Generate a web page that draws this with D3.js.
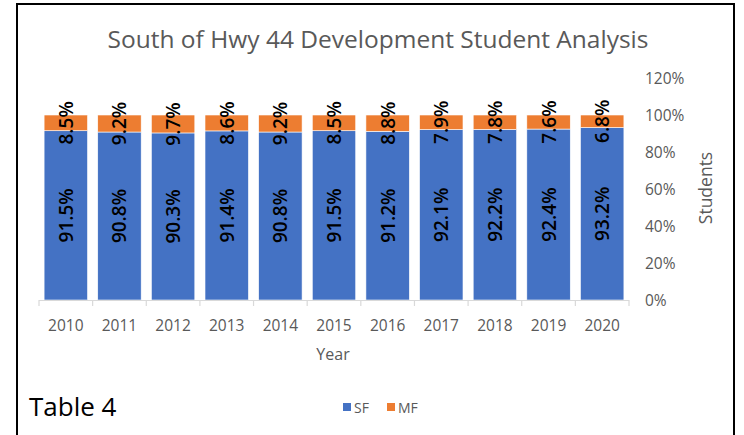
<!DOCTYPE html>
<html>
<head>
<meta charset="utf-8">
<script src="https://cdn.jsdelivr.net/npm/d3@7"></script>
<style>
  html, body { margin: 0; padding: 0; background: #fff; }
  svg { display: block; font-family: "Open Sans", sans-serif; }
</style>
</head>
<body>
<svg id="chart" width="744" height="435"></svg>
<script>
// Share of students by housing type, per year
const years = ["2010","2011","2012","2013","2014","2015","2016","2017","2018","2019","2020"];
const sf = [91.5, 90.8, 90.3, 91.4, 90.8, 91.5, 91.2, 92.1, 92.2, 92.4, 93.2];
const mf = [8.5, 9.2, 9.7, 8.6, 9.2, 8.5, 8.8, 7.9, 7.8, 7.6, 6.8];
const yTicks = [0, 20, 40, 60, 80, 100, 120];
const seriesNames = ["SF", "MF"];
const seriesColors = ["#4472C4", "#ED7D31"];

const svg = d3.select("#chart");

// outer frame
svg.append("rect")
  .attr("x", 17).attr("y", 4).attr("width", 717).attr("height", 440)
  .attr("fill", "#fff").attr("stroke", "#000").attr("stroke-width", 2);

const x = d3.scaleBand().domain(years).range([39, 629]).paddingInner(0.19).paddingOuter(0.095);
const y = d3.scaleLinear().domain([0, 120]).range([300, 78]);

// stacked segments
const rows = years.map((yr, i) => ({ year: yr, SF: sf[i], MF: mf[i] }));
const stack = d3.stack().keys(seriesNames)(rows);

const g = svg.append("g");
stack.forEach((layer, li) => {
  g.selectAll(null).data(layer).enter().append("rect")
    .attr("x", d => x(d.data.year))
    .attr("width", x.bandwidth())
    .attr("y", d => y(d[1]))
    .attr("height", d => y(d[0]) - y(d[1]))
    .attr("fill", seriesColors[li])
    .attr("stroke", "#fff").attr("stroke-width", 0.6);
});

// value labels, rotated
stack.forEach((layer, li) => {
  g.selectAll(null).data(layer).enter().append("text")
    .attr("transform", d => `translate(${x(d.data.year) + x.bandwidth() / 2},${(y(d[0]) + y(d[1])) / 2}) rotate(-90)`)
    .attr("text-anchor", "middle")
    .attr("dominant-baseline", "central")
    .attr("font-size", 19)
    .attr("font-weight", 600)
    .attr("fill", "#000")
    .text(d => (d[1] - d[0]).toFixed(1) + "%");
});

// bottom axis line with ticks between categories
const axisG = svg.append("g");
axisG.append("line")
  .attr("x1", 39).attr("x2", 629).attr("y1", 300.5).attr("y2", 300.5)
  .attr("stroke", "#d9d9d9").attr("stroke-width", 1.2);
d3.range(years.length + 1).forEach(i => {
  const tx = 39 + i * x.step();
  axisG.append("line")
    .attr("x1", tx).attr("x2", tx).attr("y1", 300).attr("y2", 306)
    .attr("stroke", "#d9d9d9").attr("stroke-width", 1.2);
});
axisG.selectAll(null).data(years).enter().append("text")
  .attr("x", d => x(d) + x.bandwidth() / 2)
  .attr("y", 325)
  .attr("text-anchor", "middle")
  .attr("dominant-baseline", "central")
  .attr("font-size", 15.5)
  .attr("fill", "#595959")
  .text(d => d);

// right value axis labels
svg.append("g").selectAll(null).data(yTicks).enter().append("text")
  .attr("x", 645)
  .attr("y", d => y(d))
  .attr("dominant-baseline", "central")
  .attr("font-size", 15.5)
  .attr("fill", "#595959")
  .text(d => d + "%");

// titles
svg.append("text")
  .attr("x", 378).attr("y", 38)
  .attr("text-anchor", "middle").attr("dominant-baseline", "central")
  .attr("font-size", 24.5).attr("fill", "#595959")
  .text("South of Hwy 44 Development Student Analysis");

svg.append("text")
  .attr("x", 333).attr("y", 354)
  .attr("text-anchor", "middle").attr("dominant-baseline", "central")
  .attr("font-size", 16).attr("fill", "#595959")
  .text("Year");

svg.append("text")
  .attr("transform", "translate(705,188) rotate(-90)")
  .attr("text-anchor", "middle").attr("dominant-baseline", "central")
  .attr("font-size", 17.5).attr("fill", "#595959")
  .text("Students");

svg.append("text")
  .attr("x", 29).attr("y", 406)
  .attr("dominant-baseline", "central")
  .attr("font-size", 26).attr("fill", "#000")
  .text("Table 4");

// legend
const legend = svg.append("g");
const legendX = [343, 387];
seriesNames.forEach((name, i) => {
  legend.append("rect")
    .attr("x", legendX[i]).attr("y", 403).attr("width", 8).attr("height", 8)
    .attr("fill", seriesColors[i]);
  legend.append("text")
    .attr("x", legendX[i] + 11).attr("y", 407)
    .attr("dominant-baseline", "central")
    .attr("font-size", 14).attr("fill", "#595959")
    .text(name);
});
</script>
</body>
</html>
